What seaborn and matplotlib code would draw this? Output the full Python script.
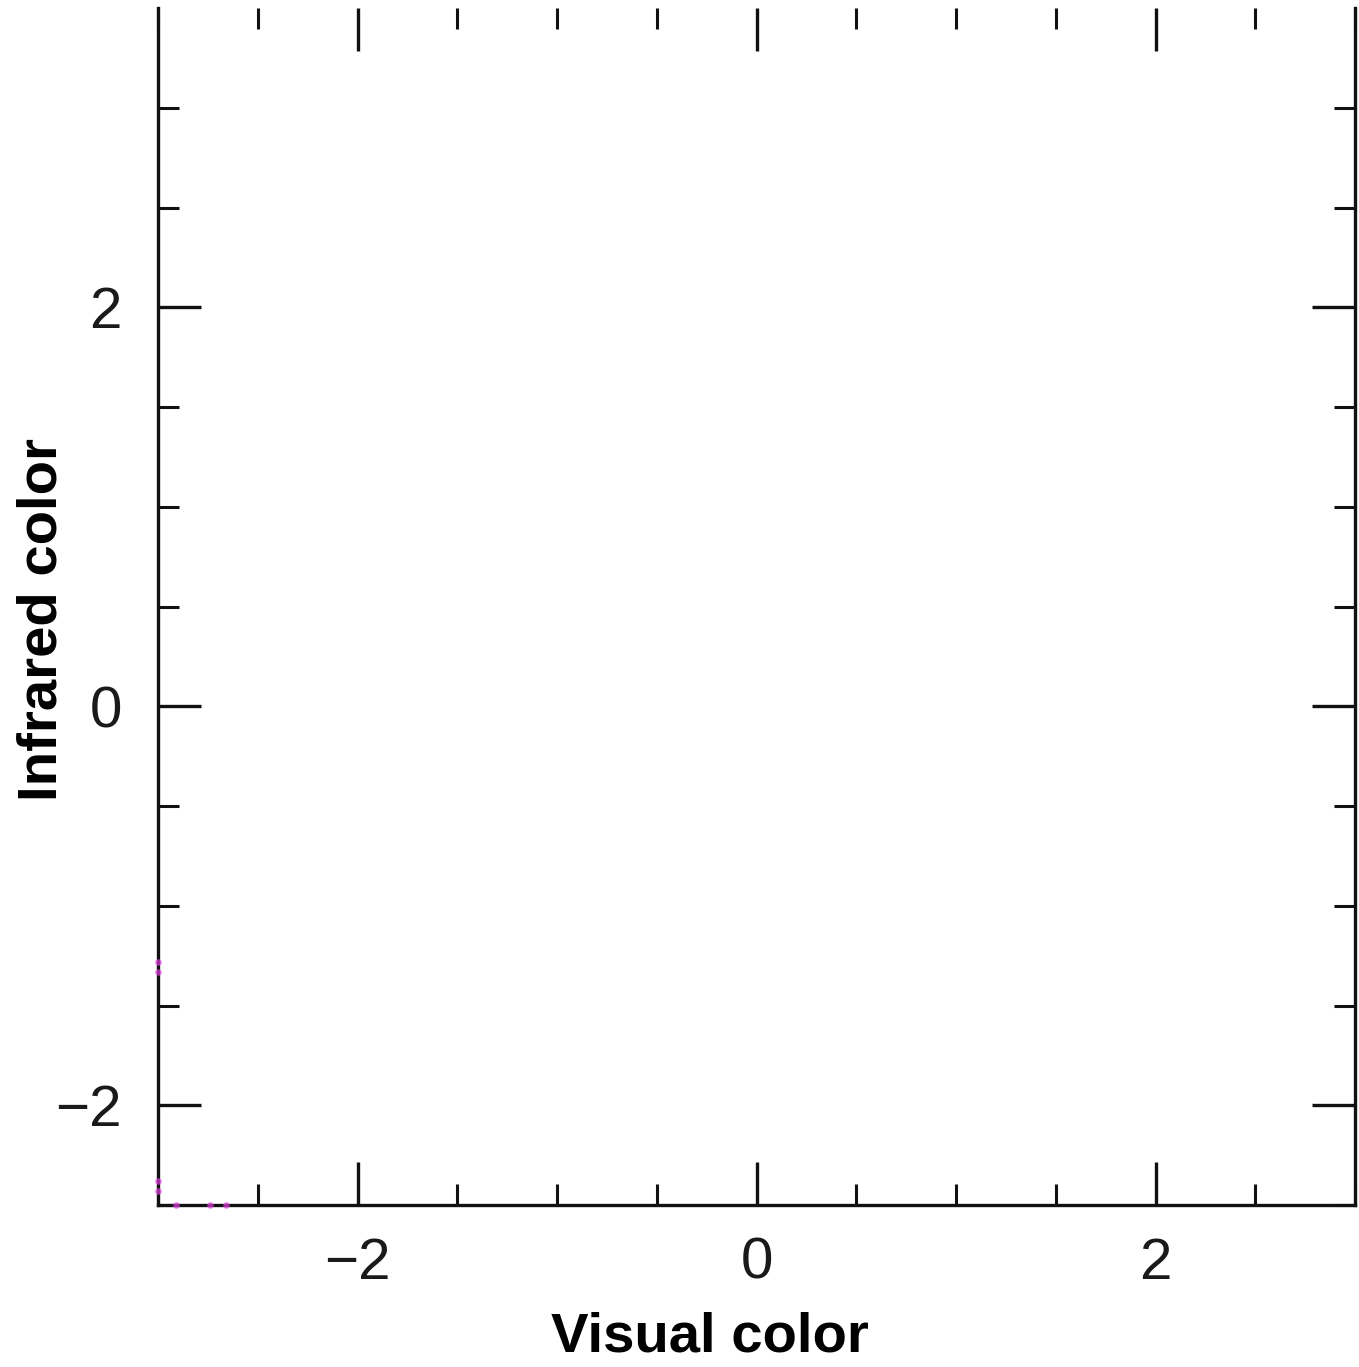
import matplotlib
matplotlib.use("Agg")
import matplotlib.pyplot as plt
from matplotlib.ticker import MultipleLocator, FixedLocator
import numpy as np
import pandas as pd
import seaborn as sns

# Colour-colour points (only a few fall at the plotted range's lower-left edge)
visual_color = [-2.91, -2.74, -2.66, -3.0, -3.0, -3.0, -3.0]
infrared_color = [-2.5, -2.5, -2.5, -1.28, -1.33, -2.38, -2.43]

x_limits = (-3, 3)
y_limits = (-2.5, 3.5)
major_ticks = [-2, 0, 2]
tick_labels = ["\u22122", "0", "2"]

sns.set_theme(style="ticks")
plt.rcParams["font.family"] = ["Liberation Sans", "DejaVu Sans"]

df = pd.DataFrame({"Visual color": visual_color, "Infrared color": infrared_color})

fig = plt.figure(figsize=(13.59, 13.67), dpi=100)
ax = fig.add_axes([158 / 1359, 1 - 1205 / 1367, 1197 / 1359, 1197 / 1367])

sns.scatterplot(data=df, x="Visual color", y="Infrared color", ax=ax,
                color="#e040e0", s=22, alpha=0.7, linewidth=0,
                clip_on=False, zorder=5)

ax.set_xlim(*x_limits)
ax.set_ylim(*y_limits)

ax.set_xticks(major_ticks)
ax.set_yticks(major_ticks)
ax.set_xticklabels(tick_labels)
ax.set_yticklabels(tick_labels)
ax.xaxis.set_minor_locator(MultipleLocator(0.5))
# minor y ticks stop at 3.0; the upper limit itself carries no tick
ax.yaxis.set_minor_locator(FixedLocator(np.arange(-2.5, 3.01, 0.5)))

for side in ["left", "bottom", "right"]:
    ax.spines[side].set_linewidth(2.4)
    ax.spines[side].set_color("#111111")
ax.spines["top"].set_visible(False)

ax.tick_params(which="major", direction="in", length=31, width=2.4,
               color="#111111", top=True, right=True, labelsize=42,
               labelcolor="#1a1a1a", pad=23)
ax.tick_params(which="minor", direction="in", length=15, width=2.2,
               color="#111111", top=True, right=True)
ax.tick_params(axis="y", which="major", pad=26)

ax.set_xlabel("Visual color", fontsize=40.5, fontweight="bold", color="black")
ax.set_ylabel("Infrared color", fontsize=40.5, fontweight="bold", color="black")
ax.xaxis.set_label_coords(0.461, -0.089)
ax.yaxis.set_label_coords(-0.075, 0.489)

fig.savefig("out.png", dpi=100, facecolor="white")
